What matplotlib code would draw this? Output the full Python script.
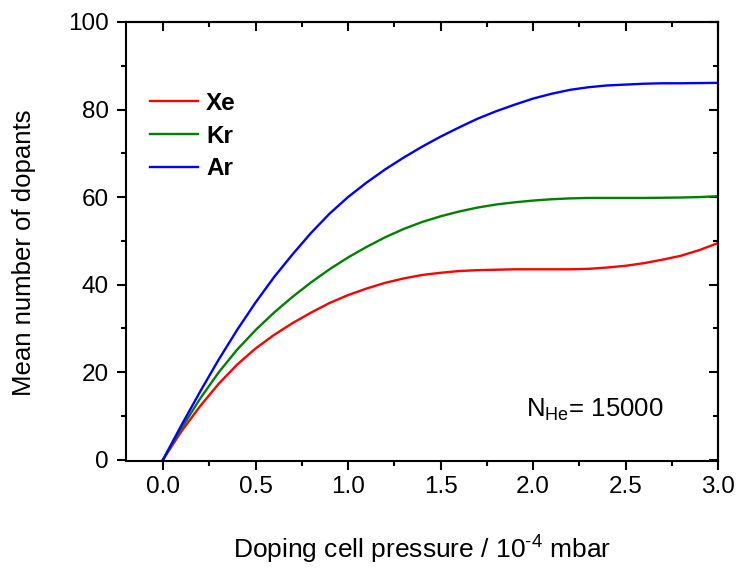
import matplotlib

matplotlib.use("Agg")
import matplotlib.pyplot as plt  # noqa: E402
from matplotlib.ticker import FormatStrFormatter, MultipleLocator  # noqa: E402

plt.rcParams["font.family"] = ["Liberation Sans", "DejaVu Sans"]
plt.rcParams["mathtext.fontset"] = "custom"
plt.rcParams["mathtext.rm"] = "Liberation Sans"
plt.rcParams["mathtext.it"] = "Liberation Sans:italic"

# doping cell pressure (1e-4 mbar)
pressure = [0.0, 0.1, 0.2, 0.3, 0.4, 0.5, 0.6, 0.7, 0.8, 0.9, 1.0, 1.1, 1.2, 1.3, 1.4, 1.5,
            1.6, 1.7, 1.8, 1.9, 2.0, 2.1, 2.2, 2.3, 2.4, 2.5, 2.6, 2.7, 2.8, 2.9, 3.0]
# mean number of dopants per species
xe = [0.0, 6.5, 12.2, 17.3, 21.7, 25.4, 28.5, 31.2, 33.6, 35.8, 37.6, 39.1, 40.4, 41.4, 42.2,
      42.7, 43.1, 43.3, 43.4, 43.5, 43.5, 43.5, 43.5, 43.6, 43.9, 44.3, 44.9, 45.7, 46.6, 47.9,
      49.5]
kr = [0.0, 7.2, 13.9, 19.9, 25.1, 29.6, 33.6, 37.2, 40.5, 43.5, 46.2, 48.6, 50.8, 52.7, 54.3,
      55.6, 56.7, 57.6, 58.3, 58.8, 59.2, 59.5, 59.7, 59.8, 59.8, 59.8, 59.8, 59.85, 59.9, 60.0,
      60.2]
ar = [0.0, 7.9, 15.5, 22.8, 29.6, 35.9, 41.7, 46.9, 51.8, 56.2, 60.0, 63.3, 66.3, 69.0, 71.5,
      73.8, 75.9, 77.9, 79.6, 81.1, 82.5, 83.6, 84.5, 85.1, 85.5, 85.7, 85.9, 86.0, 86.0, 86.05,
      86.1]
series = [("Xe", xe, "#ff0000"), ("Kr", kr, "#008000"), ("Ar", ar, "#0000ff")]

fig = plt.figure(figsize=(7.38, 5.70), dpi=100)
ax = fig.add_axes([126 / 738, 1 - 461 / 570, 592 / 738, 439 / 570])

for name, vals, col in series:
    ax.plot(pressure, vals, color=col, lw=1.7, label=name)

ax.set_xlim(-0.2, 3.0)
ax.set_ylim(-0.3, 100)
ax.xaxis.set_major_locator(MultipleLocator(0.5))
ax.xaxis.set_minor_locator(MultipleLocator(0.25))
ax.yaxis.set_major_locator(MultipleLocator(20))
ax.yaxis.set_minor_locator(MultipleLocator(10))
ax.xaxis.set_major_formatter(FormatStrFormatter("%.1f"))

for s in ax.spines.values():
    s.set_linewidth(1.5)
ax.tick_params(which="both", direction="out", width=1.5, labelsize=17.5)
ax.tick_params(which="major", length=6.5)
ax.tick_params(which="minor", length=3.6)
ax.tick_params(axis="y", pad=6)
ax.tick_params(axis="x", pad=4)

# inward ticks on the top and right edges
top = ax.secondary_xaxis("top")
top.xaxis.set_major_locator(MultipleLocator(0.5))
top.xaxis.set_minor_locator(MultipleLocator(0.25))
right = ax.secondary_yaxis("right")
right.yaxis.set_major_locator(MultipleLocator(20))
right.yaxis.set_minor_locator(MultipleLocator(10))
for other, side in ((top, "top"), (right, "right")):
    other.tick_params(which="both", direction="in", width=1.5,
                      labeltop=False, labelright=False)
    other.tick_params(which="major", length=6.5)
    other.tick_params(which="minor", length=3.6)
    other.spines[side].set_linewidth(1.5)

ax.set_xlabel(r"Doping cell pressure / 10$^{\text{-4}}$ mbar", fontsize=19, va="top")
ax.xaxis.set_label_coords(0.5, -0.165)
ax.set_ylabel("Mean number of dopants", fontsize=18.5)
ax.yaxis.set_label_coords(-0.152, 0.474)

ax.legend(loc="center left", bbox_to_anchor=(0.0405, 0.740), frameon=False,
          borderpad=0, borderaxespad=0, handlelength=1.98, handletextpad=0.33,
          labelspacing=0.4, prop={"weight": "bold", "size": 17.5})

ax.text(0.676, 0.10, r"N$_{\mathrm{He}}$= 15000", transform=ax.transAxes,
        fontsize=18.5, ha="left", va="baseline")

fig.savefig("out.png", dpi=100)
plt.close(fig)
